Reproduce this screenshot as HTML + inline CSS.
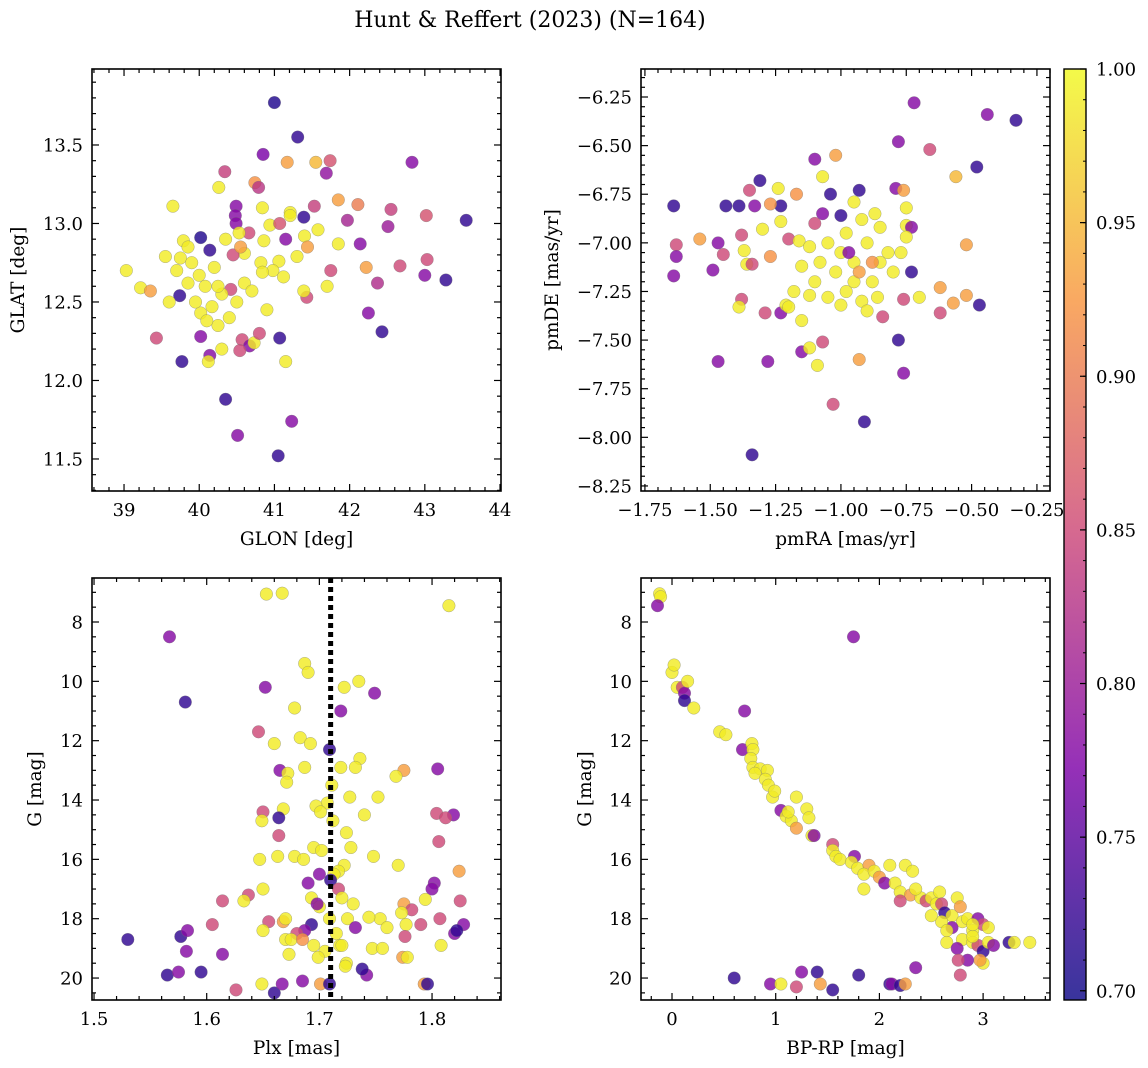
<!DOCTYPE html>
<html><head><meta charset="utf-8">
<style>
html,body{margin:0;padding:0;background:#fff;}
svg{display:block;font-family:"DejaVu Serif","Liberation Serif",serif;}
</style></head>
<body>
<svg id="fig" width="1148" height="1068" viewBox="0 0 1148 1068" xmlns="http://www.w3.org/2000/svg">
<text x="530" y="27" text-anchor="middle" font-size="22">Hunt &amp; Reffert (2023) (N=164)</text>
</svg>
<script>
// ---------- data ----------
const glonGlat = [[41.0,13.77,.71],[41.31,13.55,.72],[40.85,13.44,.77],[41.17,13.39,.93],[41.55,13.39,.95],[41.74,13.40,.86],[42.83,13.39,.78],[40.34,13.33,.84],[41.69,13.32,.79],[40.26,13.23,.99],[40.74,13.26,.92],[40.79,13.23,.83],[39.65,13.11,.99],[40.49,13.11,.78],[40.84,13.10,.99],[41.53,13.11,.84],[41.21,13.07,.99],[41.39,13.04,.72],[41.85,13.15,.93],[42.11,13.12,.9],[42.55,13.09,.84],[43.02,13.05,.86],[43.55,13.02,.72],[41.97,13.02,.81],[41.21,13.05,.99],[40.48,13.05,.78],[40.49,13.0,.78],[40.02,12.91,.71],[40.14,12.83,.72],[39.79,12.89,.99],[40.66,12.94,.85],[40.94,12.99,.99],[41.07,13.0,.86],[41.4,12.92,.99],[41.58,12.96,.99],[41.44,12.85,.93],[42.51,12.98,.8],[42.14,12.87,.78],[41.85,12.87,.99],[41.3,12.79,.99],[40.86,12.89,.99],[40.6,12.81,.99],[40.53,12.94,.99],[40.82,12.75,.99],[41.06,12.76,.99],[42.22,12.72,.93],[42.67,12.73,.85],[41.75,12.70,.85],[43.0,12.67,.78],[43.03,12.77,.85],[43.28,12.64,.72],[42.37,12.62,.82],[41.7,12.6,.99],[41.43,12.53,.85],[41.39,12.57,.99],[40.98,12.7,.99],[40.84,12.69,.99],[41.12,12.66,.99],[39.03,12.70,.99],[39.22,12.59,.99],[39.35,12.57,.93],[39.43,12.27,.85],[39.74,12.54,.72],[39.77,12.12,.72],[40.02,12.28,.78],[40.14,12.16,.78],[40.12,12.12,.99],[40.35,11.88,.72],[40.51,11.65,.78],[41.07,12.27,.72],[41.15,12.12,.99],[41.23,11.74,.78],[41.05,11.52,.72],[42.43,12.31,.72],[42.25,12.43,.78],[40.17,12.47,.99],[40.02,12.43,.99],[40.08,12.6,.99],[40.57,12.26,.85],[40.67,12.22,.78],[40.73,12.24,.99],[40.54,12.19,.85],[40.42,12.58,.85],[40.0,12.67,.99],[39.85,12.62,.99],[39.7,12.7,.99],[39.55,12.79,.99],[39.75,12.78,.99],[39.9,12.75,.99],[40.2,12.72,.99],[40.3,12.55,.99],[40.4,12.4,.99],[40.25,12.35,.99],[40.1,12.38,.99],[39.95,12.5,.99],[40.5,12.5,.99],[40.6,12.62,.99],[40.7,12.57,.99],[40.25,12.6,.99],[39.6,12.5,.99],[39.85,12.85,.99],[40.45,12.8,.85],[40.35,12.9,.99],[40.9,12.45,.99],[40.3,12.2,.99],[40.8,12.3,.85],[40.55,12.85,.93],[41.15,12.9,.78]];

const pmRaDe = [[-0.72,-6.28,.78],[-0.44,-6.34,.78],[-0.33,-6.37,.72],[-0.78,-6.48,.78],[-0.66,-6.52,.85],[-0.48,-6.61,.72],[-0.56,-6.66,.95],[-1.10,-6.57,.78],[-1.02,-6.55,.93],[-1.31,-6.68,.72],[-1.64,-6.81,.72],[-1.44,-6.81,.72],[-1.39,-6.81,.72],[-1.33,-6.81,.78],[-1.23,-6.81,.72],[-1.35,-6.73,.85],[-1.24,-6.72,.99],[-1.17,-6.75,.92],[-1.04,-6.75,.72],[-0.93,-6.73,.72],[-0.79,-6.72,.78],[-0.76,-6.73,.93],[-0.75,-6.82,.99],[-1.07,-6.66,.99],[-0.95,-6.79,.99],[-1.27,-6.80,.92],[-1.0,-6.86,.72],[-1.07,-6.85,.78],[-1.63,-7.01,.85],[-1.54,-6.98,.93],[-1.47,-7.0,.78],[-1.38,-6.96,.85],[-1.30,-6.93,.99],[-1.23,-6.89,.99],[-1.20,-6.98,.85],[-1.16,-6.99,.99],[-1.27,-7.07,.92],[-1.37,-7.04,.99],[-1.36,-7.11,.99],[-1.34,-7.11,.85],[-1.45,-7.06,.85],[-1.63,-7.07,.78],[-1.49,-7.14,.78],[-1.64,-7.17,.78],[-1.38,-7.29,.85],[-1.39,-7.33,.99],[-1.29,-7.36,.85],[-1.23,-7.36,.78],[-1.21,-7.32,.99],[-1.20,-7.33,.99],[-1.15,-7.40,.99],[-1.12,-7.27,.99],[-1.15,-7.56,.78],[-1.12,-7.54,.99],[-1.09,-7.63,.99],[-1.28,-7.61,.78],[-1.47,-7.61,.78],[-1.07,-7.51,.85],[-0.93,-7.60,.93],[-1.03,-7.83,.85],[-0.91,-7.92,.72],[-1.34,-8.09,.72],[-0.78,-7.5,.72],[-0.76,-7.67,.78],[-0.73,-7.15,.72],[-0.76,-7.29,.85],[-0.70,-7.28,.99],[-0.62,-7.36,.85],[-0.62,-7.23,.93],[-0.57,-7.31,.93],[-0.52,-7.27,.93],[-0.47,-7.32,.72],[-0.52,-7.01,.93],[-0.75,-6.91,.99],[-0.73,-6.92,.78],[-0.75,-6.97,.99],[-0.77,-7.05,.99],[-0.85,-6.92,.99],[-1.05,-7.0,.99],[-1.0,-7.05,.99],[-0.95,-7.1,.99],[-0.9,-7.0,.99],[-0.85,-7.1,.99],[-0.88,-7.2,.99],[-0.95,-7.2,.99],[-1.02,-7.15,.99],[-1.08,-7.1,.99],[-1.1,-7.2,.99],[-1.05,-7.28,.99],[-0.98,-7.25,.99],[-0.92,-7.3,.99],[-0.86,-7.28,.99],[-0.8,-7.15,.99],[-0.82,-7.05,.99],[-1.12,-7.02,.99],[-0.98,-6.95,.99],[-0.92,-6.88,.99],[-1.15,-7.12,.99],[-0.9,-7.35,.99],[-1.0,-7.32,.99],[-0.87,-6.85,.99],[-1.1,-6.9,.85],[-0.93,-7.15,.93],[-0.84,-7.38,.85],[-1.18,-7.25,.99],[-0.97,-7.05,.78],[-0.88,-7.1,.92]];

const plxG = [[1.653,7.06,.99],[1.667,7.03,.99],[1.815,7.45,.99],[1.567,8.5,.78],[1.581,10.7,.72],[1.652,10.2,.78],[1.687,9.4,.99],[1.690,9.7,.99],[1.735,10.0,.99],[1.722,10.2,.99],[1.749,10.4,.78],[1.678,10.9,.99],[1.719,11.0,.78],[1.646,11.7,.85],[1.660,12.1,.99],[1.683,11.9,.99],[1.692,12.1,.99],[1.709,12.3,.72],[1.736,12.6,.99],[1.665,13.0,.78],[1.687,12.9,.99],[1.672,13.1,.99],[1.719,12.9,.99],[1.732,12.9,.99],[1.775,13.0,.93],[1.768,13.2,.99],[1.805,12.95,.78],[1.711,13.5,.99],[1.671,13.4,.99],[1.727,13.9,.99],[1.752,13.9,.99],[1.707,14.1,.99],[1.697,14.2,.99],[1.701,14.4,.99],[1.712,14.7,.99],[1.668,14.3,.99],[1.650,14.4,.85],[1.649,14.7,.99],[1.664,14.6,.72],[1.740,14.5,.99],[1.804,14.45,.85],[1.819,14.5,.78],[1.812,14.6,.85],[1.724,15.1,.99],[1.664,15.2,.85],[1.806,15.4,.85],[1.728,15.6,.99],[1.695,15.6,.99],[1.702,15.7,.99],[1.678,15.9,.99],[1.686,16.0,.99],[1.663,15.9,.99],[1.647,16.0,.99],[1.722,16.2,.99],[1.717,16.4,.99],[1.713,16.5,.99],[1.700,16.5,.78],[1.710,16.7,.72],[1.690,16.8,.78],[1.748,15.9,.99],[1.770,16.2,.99],[1.802,16.8,.78],[1.800,17.0,.78],[1.824,16.4,.93],[1.650,17.0,.99],[1.637,17.2,.85],[1.633,17.4,.99],[1.614,17.4,.85],[1.717,17.0,.85],[1.720,17.3,.99],[1.693,17.3,.99],[1.700,17.6,.99],[1.698,17.5,.78],[1.730,17.5,.99],[1.775,17.5,.93],[1.782,17.7,.85],[1.773,17.8,.99],[1.794,17.35,.99],[1.825,17.4,.85],[1.807,18.0,.85],[1.828,18.2,.78],[1.820,18.5,.78],[1.822,18.4,.72],[1.790,18.2,.85],[1.777,18.2,.99],[1.754,18.0,.99],[1.744,17.95,.99],[1.760,18.3,.99],[1.725,18.0,.99],[1.732,18.3,.78],[1.709,18.0,.99],[1.715,18.5,.99],[1.718,18.9,.99],[1.693,18.2,.72],[1.687,18.4,.78],[1.680,18.5,.85],[1.668,18.1,.93],[1.670,18.0,.99],[1.655,18.1,.85],[1.650,18.4,.99],[1.670,18.7,.99],[1.675,18.7,.99],[1.685,18.7,.92],[1.695,18.9,.99],[1.530,18.7,.72],[1.577,18.6,.72],[1.583,18.4,.78],[1.582,19.1,.78],[1.605,18.2,.85],[1.614,19.2,.78],[1.565,19.9,.72],[1.575,19.8,.78],[1.595,19.8,.72],[1.626,20.4,.85],[1.649,20.2,.99],[1.660,20.5,.72],[1.667,20.2,.78],[1.685,20.1,.78],[1.701,20.2,.93],[1.709,20.2,.72],[1.724,19.5,.99],[1.723,19.6,.99],[1.742,19.9,.78],[1.738,19.7,.72],[1.747,19.0,.99],[1.756,19.0,.99],[1.774,19.3,.93],[1.778,19.3,.99],[1.793,20.2,.93],[1.796,20.2,.72],[1.776,18.6,.85],[1.808,18.9,.99],[1.720,18.9,.99],[1.705,19.1,.99],[1.673,19.2,.99],[1.699,19.3,.99]];

const bprpG = [[-0.12,7.05,.99],[-0.11,7.15,.99],[-0.14,7.45,.78],[1.75,8.5,.78],[0.0,9.7,.99],[0.02,9.45,.99],[0.05,10.2,.99],[0.1,10.2,.85],[0.12,10.4,.78],[0.15,10.0,.99],[0.12,10.65,.72],[0.21,10.9,.99],[0.7,11.0,.78],[0.46,11.7,.99],[0.52,11.8,.99],[0.68,12.3,.78],[0.77,12.1,.99],[0.78,12.3,.99],[0.76,12.6,.99],[0.78,12.9,.99],[0.85,12.95,.99],[0.8,13.1,.99],[0.92,13.0,.99],[0.9,13.3,.99],[0.93,13.5,.99],[0.97,13.9,.99],[0.99,13.7,.99],[1.05,14.35,.78],[1.1,14.55,.99],[1.15,14.7,.99],[1.2,14.95,.93],[1.12,14.4,.99],[1.2,13.9,.99],[1.3,14.3,.99],[1.32,14.6,.99],[1.35,15.2,.99],[1.37,15.2,.78],[1.55,15.5,.85],[1.55,15.7,.99],[1.58,15.9,.99],[1.62,16.0,.99],[1.76,15.9,.78],[1.73,16.1,.99],[1.79,16.3,.99],[1.9,16.2,.93],[1.85,16.5,.99],[1.95,16.4,.99],[2.0,16.6,.93],[2.1,16.2,.99],[2.05,16.8,.78],[2.15,16.8,.99],[2.25,16.2,.99],[2.32,16.4,.99],[2.2,17.1,.99],[2.3,17.2,.93],[2.4,17.3,.99],[2.45,17.4,.85],[2.5,17.3,.99],[2.55,17.5,.99],[2.58,17.1,.99],[2.6,17.5,.85],[2.63,17.8,.72],[2.7,17.9,.99],[2.75,17.3,.99],[2.78,17.6,.93],[2.8,18.1,.99],[2.85,18.0,.99],[2.9,18.4,.99],[2.95,18.0,.78],[3.0,18.2,.85],[3.05,18.3,.99],[2.7,18.3,.78],[2.8,18.7,.99],[2.65,18.8,.99],[2.75,19.0,.78],[2.9,18.8,.99],[2.95,18.9,.85],[3.0,19.1,.72],[3.05,18.8,.99],[3.1,18.9,.78],[3.25,18.8,.72],[3.3,18.8,.99],[3.45,18.8,.99],[3.0,19.5,.99],[2.97,19.4,.93],[2.85,19.4,.78],[2.76,19.4,.85],[2.78,19.9,.85],[2.9,18.6,.99],[2.6,18.1,.99],[2.5,17.9,.99],[1.85,17.0,.99],[2.2,17.4,.85],[2.35,17.0,.99],[2.9,18.2,.99],[2.65,18.4,.99],[0.6,20.0,.72],[0.95,20.2,.78],[1.05,20.2,.99],[1.2,20.3,.85],[1.25,19.8,.78],[1.4,19.8,.72],[1.55,20.4,.72],[1.8,19.9,.72],[2.1,20.2,.72],[2.12,20.2,.78],[2.2,20.25,.72],[2.25,20.2,.93],[2.35,19.65,.78],[1.43,20.2,.93]];

const cTicks = [0.70,0.75,0.80,0.85,0.90,0.95,1.00];
const plxLine = [1.71];

// ---------- helpers ----------
const NS = "http://www.w3.org/2000/svg";
const fig = document.getElementById('fig');
function el(tag, attrs, parent){const e=document.createElementNS(NS,tag);for(const k in attrs)e.setAttribute(k,attrs[k]);(parent||fig).appendChild(e);return e;}
const stops=[[0,[13,8,135]],[0.25,[126,3,168]],[0.5,[204,71,120]],[0.75,[248,149,64]],[1,[240,249,33]]];
function plasma(t){t=Math.max(0,Math.min(1,t));for(let i=0;i<stops.length-1;i++){const a=stops[i],b=stops[i+1];if(t<=b[0]){const f=(t-a[0])/(b[0]-a[0]);const c=a[1].map((v,j)=>Math.round(v+(b[1][j]-v)*f));return `rgb(${c[0]},${c[1]},${c[2]})`;}}return 'rgb(240,249,33)';}
const VMIN=0.697, VMAX=1.0;
const cnorm=v=>(v-VMIN)/(VMAX-VMIN);
function fmt(v,d){return (v<0?'\u2212':'')+Math.abs(v).toFixed(d);}
const TFS=18, LFS=18.5;

function panel(o){
  const g=el('g',{});
  
  
  const sx=v=>o.x0+(v-o.xmin)/(o.xmax-o.xmin)*(o.x1-o.x0);
  const sy=o.invert? (v=>o.y0+(v-o.ymin)/(o.ymax-o.ymin)*(o.y1-o.y0)) : (v=>o.y1-(v-o.ymin)/(o.ymax-o.ymin)*(o.y1-o.y0));
  const clip='clip-'+o.name;
  const cp=el('clipPath',{id:clip},g);el('rect',{x:o.x0,y:o.y0,width:o.x1-o.x0,height:o.y1-o.y0},cp);
  const pts=el('g',{'clip-path':`url(#${clip})`},g);
  
  
  o.data.forEach(d=>{
    const c=el('circle',{cx:sx(d[0]).toFixed(1),cy:sy(d[1]).toFixed(1),r:6.3,fill:plasma(cnorm(d[2])),'fill-opacity':0.82,stroke:'#777','stroke-width':0.5,'stroke-opacity':0.6},pts);
    
    
  });
  if(o.vline){o.vline.forEach(v=>{const l=el('line',{x1:sx(v),x2:sx(v),y1:o.y0,y2:o.y1,stroke:'#000','stroke-width':5,'stroke-dasharray':'5,4'},g);});}
  el('rect',{x:o.x0,y:o.y0,width:o.x1-o.x0,height:o.y1-o.y0,fill:'none',stroke:'#000','stroke-width':1.6},g);
  const xt=el('g',{},g);
  for(let v=Math.ceil(o.xmin/o.xminor-1e-6)*o.xminor; v<=o.xmax+1e-9; v+=o.xminor){
    const isMaj=Math.abs(v/o.xmajor-Math.round(v/o.xmajor))<1e-4;const L=isMaj?7:4;const X=sx(v);
    el('line',{x1:X,x2:X,y1:o.y1,y2:o.y1-L,stroke:'#000','stroke-width':1.2},xt);
    el('line',{x1:X,x2:X,y1:o.y0,y2:o.y0+L,stroke:'#000','stroke-width':1.2},xt);
    if(isMaj){const t=el('text',{x:X,y:o.y1+25,'text-anchor':'middle','font-size':TFS},xt);t.textContent=fmt(Math.round(v/o.xmajor)*o.xmajor,o.xdec);}
  }
  const yt=el('g',{},g);
  for(let v=Math.ceil(o.ymin/o.yminor-1e-6)*o.yminor; v<=o.ymax+1e-9; v+=o.yminor){
    const isMaj=Math.abs(v/o.ymajor-Math.round(v/o.ymajor))<1e-4;const L=isMaj?7:4;const Y=sy(v);
    el('line',{x1:o.x0,x2:o.x0+L,y1:Y,y2:Y,stroke:'#000','stroke-width':1.2},yt);
    el('line',{x1:o.x1,x2:o.x1-L,y1:Y,y2:Y,stroke:'#000','stroke-width':1.2},yt);
    if(isMaj){const t=el('text',{x:o.x0-9,y:Y+6.5,'text-anchor':'end','font-size':TFS},yt);t.textContent=fmt(Math.round(v/o.ymajor)*o.ymajor,o.ydec);}
  }
  const xl=el('text',{x:(o.x0+o.x1)/2,y:o.y1+54,'text-anchor':'middle','font-size':LFS},g);xl.textContent=o.xlabel;
  
  const yx=o.ylx, yy=(o.y0+o.y1)/2;
  const yl=el('text',{x:yx,y:yy,'text-anchor':'middle','font-size':LFS,transform:`rotate(-90 ${yx} ${yy})`},g);yl.textContent=o.ylabel;
  
}

panel({name:'glon-glat-panel',data:glonGlat,x0:92,x1:501,y0:69,y1:491,xmin:38.574,xmax:44.013,ymin:11.296,ymax:13.984,xmajor:1,xminor:0.2,ymajor:0.5,yminor:0.1,xdec:0,ydec:1,xlabel:'GLON [deg]',ylabel:'GLAT [deg]',ylx:24});
panel({name:'proper-motion-panel',data:pmRaDe,x0:641,x1:1050,y0:69,y1:491,xmin:-1.765,xmax:-0.200,ymin:-8.276,ymax:-6.106,xmajor:0.25,xminor:0.05,ymajor:0.25,yminor:0.05,xdec:2,ydec:2,xlabel:'pmRA [mas/yr]',ylabel:'pmDE [mas/yr]',ylx:558});
panel({name:'parallax-mag-panel',data:plxG,x0:92,x1:501,y0:578,y1:1000,xmin:1.4982,xmax:1.8612,ymin:6.517,ymax:20.74,invert:true,xmajor:0.1,xminor:0.02,ymajor:2,yminor:0.5,xdec:1,ydec:0,xlabel:'Plx [mas]',ylabel:'G [mag]',ylx:41,vline:plxLine});
panel({name:'cmd-panel',data:bprpG,x0:641,x1:1050,y0:578,y1:1000,xmin:-0.299,xmax:3.645,ymin:6.517,ymax:20.74,invert:true,xmajor:1,xminor:0.2,ymajor:2,yminor:0.5,xdec:0,ydec:0,xlabel:'BP-RP [mag]',ylabel:'G [mag]',ylx:591});

(function(){
  const g=el('g',{});
  const defs=el('defs',{},g);const lg=el('linearGradient',{id:'cbg',x1:0,y1:1,x2:0,y2:0},defs);
  for(let i=0;i<=20;i++){el('stop',{offset:(i/20),'stop-color':plasma(i/20)},lg);}
  const X0=1064,X1=1086,Y0=69,Y1=1000;
  el('rect',{x:X0,y:Y0,width:X1-X0,height:Y1-Y0,fill:'url(#cbg)','fill-opacity':0.82},g);
  el('rect',{x:X0,y:Y0,width:X1-X0,height:Y1-Y0,fill:'none',stroke:'#000','stroke-width':1.4},g);
  const cy=v=>Y1-(v-VMIN)/(VMAX-VMIN)*(Y1-Y0);
  for(let v=0.70;v<=1.0001;v+=0.01){const Y=cy(v);el('line',{x1:X1,x2:X1-3,y1:Y,y2:Y,stroke:'#000','stroke-width':1},g);}
  cTicks.forEach(v=>{const Y=cy(v);el('line',{x1:X1,x2:X1-6,y1:Y,y2:Y,stroke:'#000','stroke-width':1.2},g);
    const t=el('text',{x:X1+10,y:Y+6.5,'font-size':TFS},g);t.textContent=v.toFixed(2);
    });
})();
</script>
</body></html>
